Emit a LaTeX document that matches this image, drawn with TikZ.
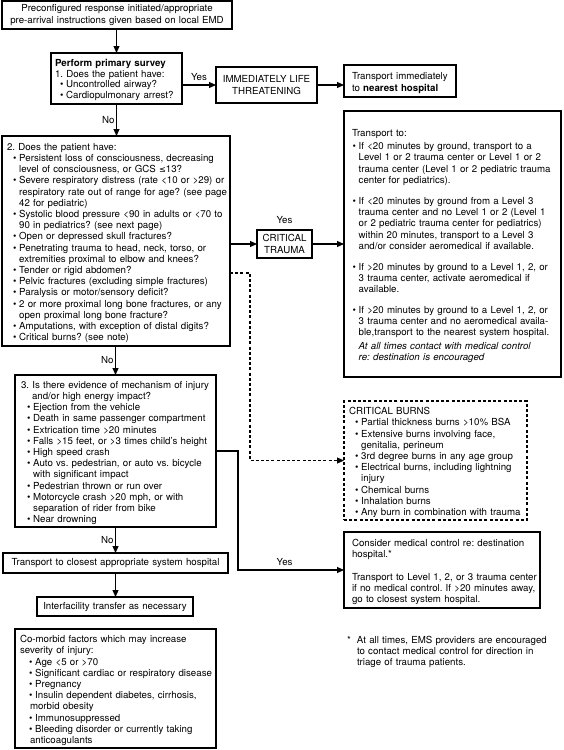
\documentclass[tikz,border=0pt]{standalone}
\usepackage{fontspec}
\setmainfont{TeX Gyre Heros}
\newfontfamily\dvs{DejaVu Sans}[Scale=0.85]
\usetikzlibrary{arrows.meta}
\newcommand{\fs}{\fontsize{9.7}{11.2}\selectfont\frenchspacing}
\newcommand{\fss}{\fontsize{9.7}{10.5}\selectfont\frenchspacing}
\newcommand{\xl}[2][0pt]{\par\noindent\hspace*{#1}\mbox{#2}}
\newcommand{\xb}[2][6pt]{\par\noindent\hspace*{#1}\makebox[6.2pt][l]{\textbullet}\mbox{#2}}
\newcommand{\xc}[2][6pt]{\par\noindent\hspace*{\dimexpr#1+6.2pt\relax}\mbox{#2}}
\tikzset{
  base/.style={font=\fs, outer sep=0pt, anchor=north west, inner xsep=2pt, inner ysep=0pt},
  bx/.style={base, draw, line width=1.2pt},
  tbx/.style={base, draw, line width=2.8pt},
  dbx/.style={base, draw, line width=1.2pt, dash pattern=on 3pt off 2.2pt},
  arr/.style={line width=1.1pt, -{Triangle[length=7pt,width=6pt]}},
  dsh/.style={dash pattern=on 3pt off 2.2pt},
  lbl/.style={font=\fs, inner sep=1.5pt},
}
\begin{document}
\begin{tikzpicture}[x=1pt,y=-1pt]
\useasboundingbox (0,0) rectangle (564,750);

\node[bx, minimum width=230pt, minimum height=28pt, text width=226pt, align=center] (top) at (2,1)
 {Preconfigured response initiated/appropriate\\pre-arrival instructions given based on local EMD};

\node[bx, font=\fss, inner xsep=4pt, minimum width=131pt, minimum height=51pt, text width=123pt, align=left] (survey) at (51,53)
 {\xl{\bfseries Perform primary survey}
  \xl{1. Does the patient have:}
  \xb[5pt]{Uncontrolled airway?}
  \xb[5pt]{Cardiopulmonary arrest?}};

\node[bx, minimum width=101pt, minimum height=36pt, text width=97pt, align=center] (immed) at (216,67)
 {IMMEDIATELY LIFE\\THREATENING};

\node[tbx, inner xsep=8pt, minimum width=112pt, minimum height=32pt, text width=96pt, align=left] (transimm) at (344,65)
 {\xl{Transport immediately}
  \xl{to {\bfseries nearest hospital}}};

\node[bx, inner xsep=5pt, minimum width=228pt, minimum height=210pt, text width=218pt, align=left] (box2) at (2,136)
 {\xl{2. Does the patient have:}
  \xb{Persistent loss of consciousness, decreasing}
  \xc{level of consciousness, or GCS {\dvs ≤}13?}
  \xb{Severe respiratory distress (rate <10 or >29) or}
  \xc{respiratory rate out of range for age? (see page}
  \xc{42 for pediatric)}
  \xb{Systolic blood pressure <90 in adults or <70 to}
  \xc{90 in pediatrics? (see next page)}
  \xb{Open or depressed skull fractures?}
  \xb{Penetrating trauma to head, neck, torso, or}
  \xc{extremities proximal to elbow and knees?}
  \xb{Tender or rigid abdomen?}
  \xb{Pelvic fractures (excluding simple fractures)}
  \xb{Paralysis or motor/sensory deficit?}
  \xb{2 or more proximal long bone fractures, or any}
  \xc{open proximal long bone fracture?}
  \xb{Amputations, with exception of distal digits?}
  \xb{Critical burns? (see note)}};

\node[bx, minimum width=55pt, minimum height=28pt, text width=51pt, align=center] (crit) at (257,230)
 {CRITICAL\\TRAUMA};

\node[tbx, inner xsep=8pt, minimum width=217pt, minimum height=266pt, text width=201pt, align=left] (transto) at (344,111)
 {\xl{Transport to:}\par\vspace{2.5pt}
  \xb[0.5pt]{If <20 minutes by ground, transport to a}
  \xc[0.5pt]{Level 1 or 2 trauma center or Level 1 or 2}
  \xc[0.5pt]{trauma center (Level 1 or 2 pediatric trauma}
  \xc[0.5pt]{center for pediatrics).}\par\vspace{10pt}
  \xb[0.5pt]{If <20 minutes by ground from a Level 3}
  \xc[0.5pt]{trauma center and no Level 1 or 2 (Level 1}
  \xc[0.5pt]{or 2 pediatric trauma center for pediatrics)}
  \xc[0.5pt]{within 20 minutes, transport to a Level 3}
  \xc[0.5pt]{and/or consider aeromedical if available.}\par\vspace{10pt}
  \xb[0.5pt]{If >20 minutes by ground to a Level 1, 2, or}
  \xc[0.5pt]{3 trauma center, activate aeromedical if}
  \xc[0.5pt]{available.}\par\vspace{9pt}
  \xb[0.5pt]{If >20 minutes by ground to a Level 1, 2, or}
  \xc[0.5pt]{3 trauma center and no aeromedical availa-}
  \xc[0.5pt]{ble,transport to the nearest system hospital.}\par\vspace{3pt}
  \xc[0.5pt]{\itshape At all times contact with medical control}
  \xc[0.5pt]{\itshape re: destination is encouraged}};

\node[dbx, inner xsep=5pt, minimum width=183pt, minimum height=119pt, text width=173pt, align=left] (burns) at (344,401)
 {\xl{CRITICAL BURNS}
  \xb{Partial thickness burns >10\% BSA}
  \xb{Extensive burns involving face,}
  \xc{genitalia, perineum}
  \xb{3rd degree burns in any age group}
  \xb{Electrical burns, including lightning}
  \xc{injury}
  \xb{Chemical burns}
  \xb{Inhalation burns}
  \xb{Any burn in combination with trauma}};

\node[bx, inner xsep=6pt, minimum width=201pt, minimum height=152pt, text width=189pt, align=left] (box3) at (15,375)
 {\xl{3. Is there evidence of mechanism of injury}
  \xl[11pt]{and/or high energy impact?}
  \xb{Ejection from the vehicle}
  \xb{Death in same passenger compartment}
  \xb{Extrication time >20 minutes}
  \xb{Falls >15 feet, or >3 times child's height}
  \xb{High speed crash}
  \xb{Auto vs. pedestrian, or auto vs. bicycle}
  \xc{with significant impact}
  \xb{Pedestrian thrown or run over}
  \xb{Motorcycle crash >20 mph, or with}
  \xc{separation of rider from bike}
  \xb{Near drowning}};

\node[tbx, inner xsep=8pt, minimum width=196pt, minimum height=76pt, text width=180pt, align=left] (consider) at (344,532)
 {\xl{Consider medical control re: destination}
  \xl{hospital.*}\par\vspace{11.2pt}
  \xl{Transport to Level 1, 2, or 3 trauma center}
  \xl{if no medical control. If >20 minutes away,}
  \xl{go to closest system hospital.}};

\node[tbx, minimum width=225pt, minimum height=20pt, text width=221pt, align=center] (closest) at (3,553)
 {Transport to closest appropriate system hospital};

\node[bx, line width=1.6pt, minimum width=156pt, minimum height=19pt, text width=152pt, align=center] (interf) at (37,597)
 {Interfacility transfer as necessary};

\node[bx, inner xsep=5pt, minimum width=201pt, minimum height=119pt, text width=191pt, align=left] (comorb) at (15,629)
 {\xl{Co-morbid factors which may increase}
  \xl{severity of injury:}
  \xb[9pt]{Age <5 or >70}
  \xb[9pt]{Significant cardiac or respiratory disease}
  \xb[9pt]{Pregnancy}
  \xb[9pt]{Insulin dependent diabetes, cirrhosis,}
  \xl[10pt]{morbid obesity}
  \xb[9pt]{Immunosuppressed}
  \xb[9pt]{Bleeding disorder or currently taking}
  \xl[10pt]{anticoagulants}};

\node[base, inner xsep=0pt, text width=215pt, align=left] (note) at (347,632)
 {\xl{\makebox[10pt][l]{*}At all times, EMS providers are encouraged}
  \xl[10pt]{to contact medical control for direction in}
  \xl[10pt]{triage of trauma patients.}};

% connectors
\draw[arr] (survey.north |- top.south) -- (survey.north);
\draw[arr] (survey.south) -- (survey.south |- box2.north) node[lbl, midway, left] {No};
\draw[arr] (survey.east |- immed.west) -- (immed.west) node[lbl, midway, above, yshift=2pt] {Yes};
\draw[arr] (immed.east) -- (immed.east -| transimm.west);
\draw[arr] (box2.east |- crit.west) -- (crit.west);
\node[lbl, above=5pt] (yes2) at (crit.north) {Yes};
\draw[arr] (crit.east) -- (crit.east -| transto.west);
\coordinate (dk) at (250,273);
\draw[arr, dsh] (box2.east |- dk) -- (dk) |- (burns.west);
\draw[arr] (box3.north |- box2.south) -- (box3.north) node[lbl, midway, left] {No};
\coordinate (yk) at (238,452);
\draw[arr] (box3.east) -- (box3.east -| yk) |- (consider.west) node[lbl, pos=0.72, above, yshift=2pt] {Yes};
\draw[arr] (box3.south) -- (box3.south |- closest.north) node[lbl, midway, left] {No};
\draw[arr] (closest.south) -- (closest.south |- interf.north);
\end{tikzpicture}
\end{document}
